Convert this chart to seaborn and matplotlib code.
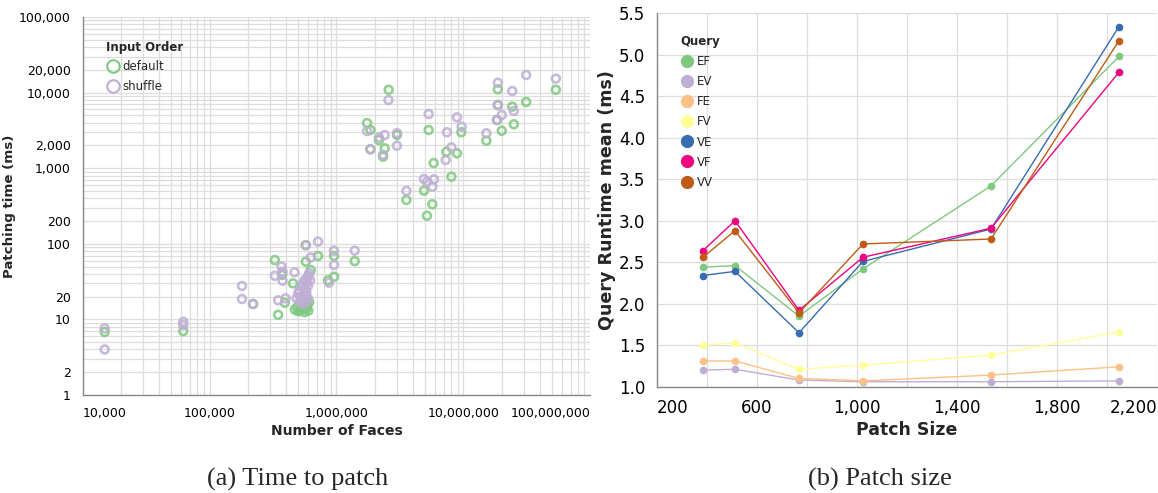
import numpy as np
import pandas as pd
import matplotlib
matplotlib.use("Agg")
import matplotlib.pyplot as plt
from matplotlib.lines import Line2D
from matplotlib.ticker import FixedLocator, NullLocator
import seaborn as sns

# (a) patching time vs number of faces
default_faces = [14900, 62000, 220000, 327000, 347000, 392000, 373000, 455000,
                 470000, 500000, 520000, 540000, 490000, 560000, 600000, 610000, 590000,
                 581000, 573000, 628000, 716000, 859000, 957000, 957000, 1393000, 573000, 546000,
                 2580000, 1742000, 1853000, 1853000, 2164000, 2400000, 3000000, 2330000,
                 5330000, 9640000, 5840000, 7350000, 8910000, 8050000, 4900000, 3560000,
                 5700000, 5170000, 18700000, 24300000, 31300000, 20100000, 25000000,
                 15200000, 53600000, 18700000, 18400000]
default_ms = [6.8, 7.0, 16, 61, 11.5, 16.6, 38.7, 30,
              13.5, 12.8, 13.2, 14, 14.5, 12.5, 13, 17, 15.5,
              14, 58, 45, 69, 33, 36.7, 69, 59, 96, 17,
              10900, 3960, 3200, 1780, 2360, 1830, 2750, 1420,
              3200, 2990, 1170, 1650, 1575, 772, 504, 380,
              333, 235, 11060, 6510, 7510, 3130, 3810,
              2310, 10900, 6850, 4340]

shuffle_faces = [14900, 14900, 62000, 62000, 180000, 180000, 220000, 369000, 376000,
                 327000, 376000, 467000, 347000, 397000, 716000, 957000, 957000, 628000,
                 875000, 1393000, 573000,
                 500000, 520000, 540000, 560000, 580000, 590000, 600000, 550000, 510000,
                 530000, 570000, 595000, 485000, 560000, 580000, 600000, 575000, 610000,
                 620000, 545000, 515000,
                 2570000, 1742000, 1853000, 2400000, 3000000, 3000000, 2164000, 2330000,
                 5330000, 8910000, 9700000, 7430000, 8050000, 7260000, 4900000, 5870000,
                 5700000, 5170000, 3560000, 15200000, 18700000, 24300000, 31300000,
                 53600000, 18700000, 20100000, 25000000, 18400000]
shuffle_ms = [7.6, 4.0, 9.3, 8.4, 27.7, 18.6, 16, 50, 42.8,
              37.8, 32.5, 42, 17.9, 19, 107, 81, 52.5, 66,
              30.6, 81, 96,
              22, 20, 18, 25, 30, 35, 28, 16, 24,
              27, 21, 19, 19, 33, 23, 38, 17, 41,
              33, 30, 17,
              7980, 3100, 1780, 2750, 2900, 1985, 2560, 1500,
              5210, 4710, 3540, 2990, 1890, 1283, 720, 713,
              569, 663, 500, 2900, 13500, 10500, 17100,
              15300, 6850, 5050, 5710, 4340]

# (b) query runtime vs patch size
patch_size = [384, 512, 768, 1024, 1536, 2048]
ef = [2.44, 2.46, 1.85, 2.42, 3.42, 4.98]
ev = [1.20, 1.21, 1.08, 1.06, 1.06, 1.07]
fe = [1.31, 1.31, 1.10, 1.07, 1.14, 1.24]
fv = [1.50, 1.53, 1.21, 1.26, 1.38, 1.66]
ve = [2.34, 2.39, 1.65, 2.51, 2.90, 5.34]
vf = [2.64, 3.00, 1.92, 2.56, 2.91, 4.79]
vv = [2.56, 2.88, 1.89, 2.72, 2.78, 5.17]
queries = ["EF", "EV", "FE", "FV", "VE", "VF", "VV"]

accent = ["#7fc97f", "#beaed4", "#fdc086", "#ffff99", "#386cb0", "#f0027f", "#bf5b17"]

sns.set_style("white")
plt.rcParams["font.family"] = ["DejaVu Sans"]

fig = plt.figure(figsize=(11.58, 4.93), dpi=100)
ax1 = fig.add_axes([82.7 / 1158, 1 - 395 / 493, 507.5 / 1158, 378 / 493])
ax2 = fig.add_axes([657 / 1158, 1 - 386.7 / 493, 500 / 1158, 373.4 / 493])

axis_gray = "#888888"
grid_gray = "#dddddd"


def style_axes(ax):
    for s in ["top", "right"]:
        ax.spines[s].set_visible(False)
    for s in ["left", "bottom"]:
        ax.spines[s].set_color(axis_gray)
        ax.spines[s].set_linewidth(1)
    ax.tick_params(axis="both", which="both", color=axis_gray, length=5, width=1,
                   labelcolor="black")
    ax.grid(True, color=grid_gray, linewidth=0.9)
    ax.set_axisbelow(True)


# ---- left chart
df_a = pd.DataFrame({
    "faces": default_faces + shuffle_faces,
    "ms": default_ms + shuffle_ms,
    "order": ["default"] * len(default_faces) + ["shuffle"] * len(shuffle_faces),
})
sns.scatterplot(data=df_a, x="faces", y="ms", hue="order",
                palette={"default": accent[0], "shuffle": accent[1]},
                s=32, linewidth=1.9, alpha=0.85, legend=False, ax=ax1)
for coll in ax1.collections:
    coll.set_edgecolors(coll.get_facecolors())
    coll.set_facecolors("none")

ax1.set_xscale("log")
ax1.set_yscale("log")
ax1.set_xlim(1e4, 1e8)
ax1.set_ylim(1, 1e5)
style_axes(ax1)

xt = [m * 10 ** k for k in range(4, 8) for m in range(1, 10)] + [1e8]
xl = [f"{v:,.0f}" if m == 1 else "" for v, m in
      zip(xt, [m for k in range(4, 8) for m in range(1, 10)] + [1])]
ax1.xaxis.set_major_locator(FixedLocator(xt))
ax1.xaxis.set_minor_locator(NullLocator())
labs = ax1.set_xticklabels(xl, fontsize=9)
labs[0].set_ha("left")
labs[-1].set_ha("right")

yt = [m * 10 ** k for k in range(0, 5) for m in range(1, 10)] + [1e5]
ylab_vals = {1, 2, 10, 20, 100, 200, 1000, 2000, 10000, 20000, 100000}
yl = [f"{v:,.0f}" if round(v) in ylab_vals else "" for v in yt]
ax1.yaxis.set_major_locator(FixedLocator(yt))
ax1.yaxis.set_minor_locator(NullLocator())
ax1.set_yticklabels(yl, fontsize=9)

ax1.set_xlabel("Number of Faces", fontsize=10, fontweight="bold", labelpad=3)
ax1.set_ylabel("Patching time (ms)", fontsize=9.6, fontweight="bold", labelpad=2)

h1 = [Line2D([], [], marker="o", linestyle="none", markersize=9,
             markerfacecolor="none", markeredgecolor=accent[i], markeredgewidth=1.5)
      for i in range(2)]
leg1 = ax1.legend(h1, ["default", "shuffle"], title="Input Order", loc="upper left",
                  bbox_to_anchor=(0.025, 0.965), frameon=False, fontsize=8.5,
                  title_fontproperties={"weight": "bold", "size": 8.5},
                  handletextpad=0.2, labelspacing=0.55, handlelength=1.2)
leg1._legend_box.align = "left"

# ---- right chart
df_b = pd.DataFrame({
    "patch": patch_size * 7,
    "runtime": ef + ev + fe + fv + ve + vf + vv,
    "query": [q for q in queries for _ in patch_size],
})
sns.lineplot(data=df_b, x="patch", y="runtime", hue="query", hue_order=queries,
             palette=dict(zip(queries, accent)), marker="o", markersize=5.5,
             markeredgewidth=0, linewidth=1, legend=False, ax=ax2)
ax2.set_xlim(200, 2200)
ax2.set_ylim(1.0, 5.5)
style_axes(ax2)
ax2.set_xticks(np.arange(200, 2201, 200))
xl2 = [f"{v:,}" if (v - 200) % 400 == 0 else "" for v in range(200, 2201, 200)]
labs2 = ax2.set_xticklabels(xl2, fontsize=12)
labs2[0].set_ha("left")
labs2[-1].set_ha("right")
ax2.set_yticks(np.arange(1.0, 5.51, 0.5))
ax2.set_yticklabels([f"{v:.1f}" for v in np.arange(1.0, 5.51, 0.5)], fontsize=12)
ax2.set_xlabel("Patch Size", fontsize=12.5, fontweight="bold", labelpad=3)
ax2.set_ylabel("Query Runtime mean (ms)", fontsize=12.6, fontweight="bold", labelpad=2)

h2 = [Line2D([], [], marker="o", linestyle="none", markersize=9.5,
             markerfacecolor=c, markeredgewidth=0) for c in accent]
leg2 = ax2.legend(h2, queries, title="Query", loc="upper left",
                  bbox_to_anchor=(0.025, 0.97), frameon=False, fontsize=8.5,
                  title_fontproperties={"weight": "bold", "size": 8.5},
                  handletextpad=0.2, labelspacing=0.6, handlelength=1.2)
leg2._legend_box.align = "left"

fig.text(297.5 / 1158, 1 - 479 / 493, "(a) Time to patch", ha="center", va="center",
         fontsize=19, family="Liberation Serif")
fig.text(880 / 1158, 1 - 479 / 493, "(b) Patch size", ha="center", va="center",
         fontsize=19, family="Liberation Serif")

fig.savefig("out.png", dpi=100)
